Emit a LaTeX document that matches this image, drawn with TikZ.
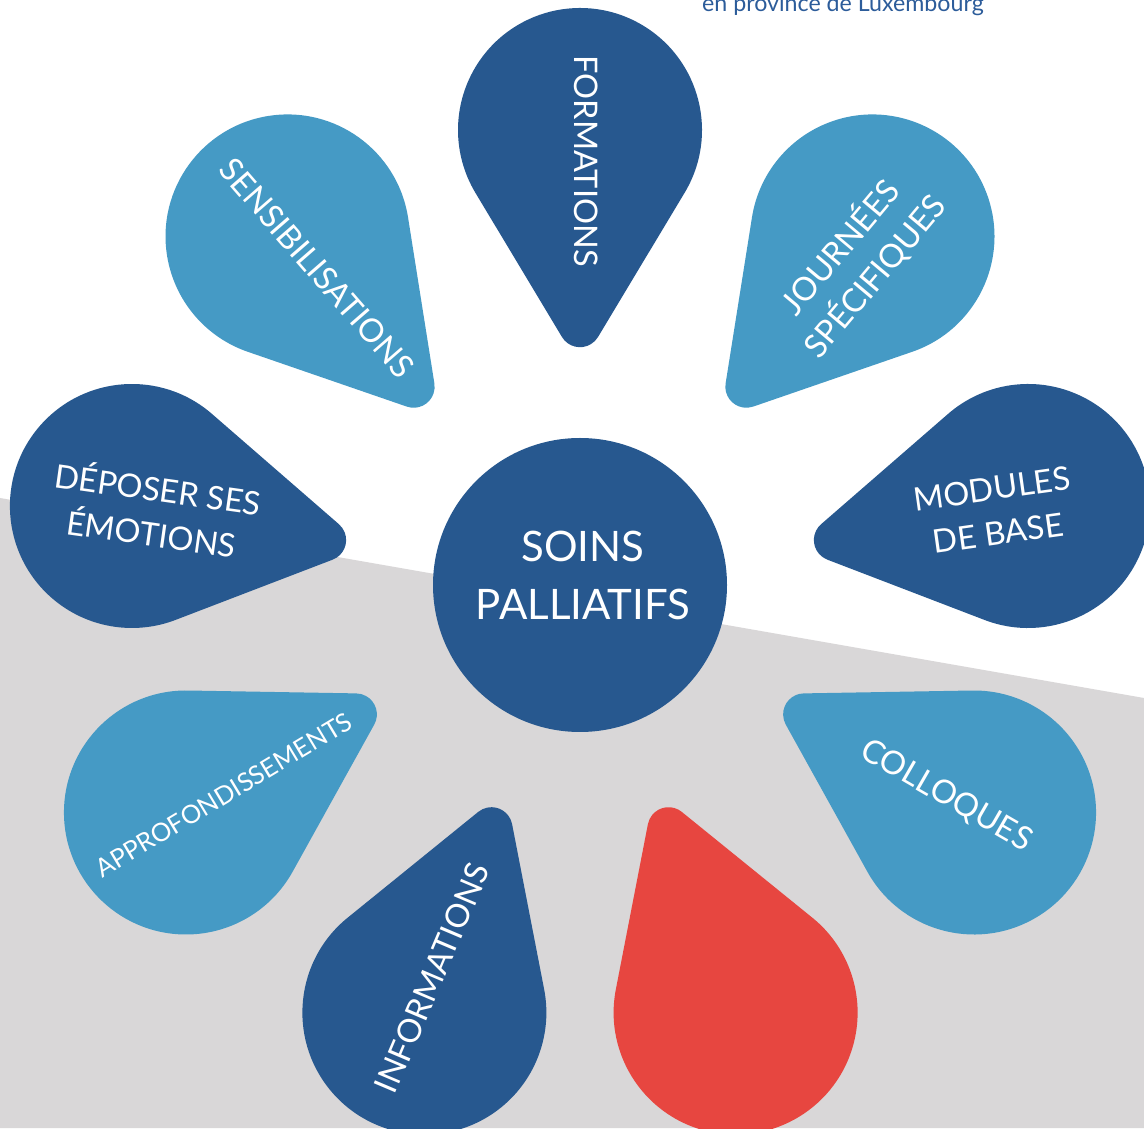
\documentclass[tikz,border=0pt]{standalone}
\usepackage{fontspec}
\setmainfont{Lato}
\usetikzlibrary{calc}
\definecolor{dblue}{RGB}{39,88,143}
\definecolor{lblue}{RGB}{69,154,197}
\definecolor{pred}{RGB}{231,70,64}
\definecolor{bggrey}{RGB}{217,215,216}
\definecolor{toptext}{RGB}{44,92,154}
% #1 radial angle, #2 colour, #3 name
\newcommand\drawpetal[3]{%
  \coordinate (#3) at ($(m)+(#1:455)$);
  \fill[#2] ($(#3)+(#1+239:122)$)
    arc[start angle=#1+239, delta angle=242, radius=122]
    -- ($(#3)+(#1+180:196.2)+(#1+121:21)$)
    arc[start angle=#1+121, delta angle=118, radius=21]
    -- cycle;
}
\begin{document}
\begin{tikzpicture}[x=1pt,y=1pt,
  lbl/.style={text=white, font=\fontsize{32.5}{45}\selectfont, align=center, inner sep=0pt},
  smalllbl/.style={lbl, font=\fontsize{25.5}{36}\selectfont},
  hub/.style={circle, fill=dblue, minimum size=294pt, inner sep=0pt}]
\useasboundingbox (0,0) rectangle (1144,1128);
\fill[white] (0,0) rectangle (1144,1128);
\fill[bggrey] (0,0) -- (0,630) -- (1144,430) -- (1144,0) -- cycle;
\coordinate (m) at (580,543);
\drawpetal{90}{dblue}{p1}
\drawpetal{50}{lblue}{p2}
\drawpetal{10}{dblue}{p3}
\drawpetal{-30}{lblue}{p4}
\drawpetal{-70}{pred}{p5}
\drawpetal{-110}{dblue}{p6}
\drawpetal{-150}{lblue}{p7}
\drawpetal{170}{dblue}{p8}
\drawpetal{130}{lblue}{p9}
\node[hub] (hubnode) at (m) {};
\node[lbl, font=\fontsize{42}{58}\selectfont] (hubtext) at (583,553) {SOINS\\PALLIATIFS};
\node[lbl, rotate=-90] (t1) at (586,967) {FORMATIONS};
\node[lbl, rotate=50] (t2) at (857,867) {JOURNÉES\\SPÉCIFIQUES};
\node[lbl, rotate=8] (t3) at (995,617) {MODULES\\DE BASE};
\node[lbl, rotate=-30] (t4) at (946,332) {COLLOQUES};
\node[lbl, rotate=67] (t6) at (432,150) {INFORMATIONS};
\node[smalllbl, rotate=31] (t7) at (224,333) {APPROFONDISSEMENTS};
\node[lbl, rotate=-8] (t8) at (155,619) {DÉPOSER SES\\ÉMOTIONS};
\node[lbl, rotate=-49] (t9) at (317,860) {SENSIBILISATIONS};
\node[anchor=base west, inner sep=0pt, text=toptext, font=\fontsize{23.2}{28}\selectfont] (top) at (702,1116) {en province de Luxembourg};
\end{tikzpicture}
\end{document}
